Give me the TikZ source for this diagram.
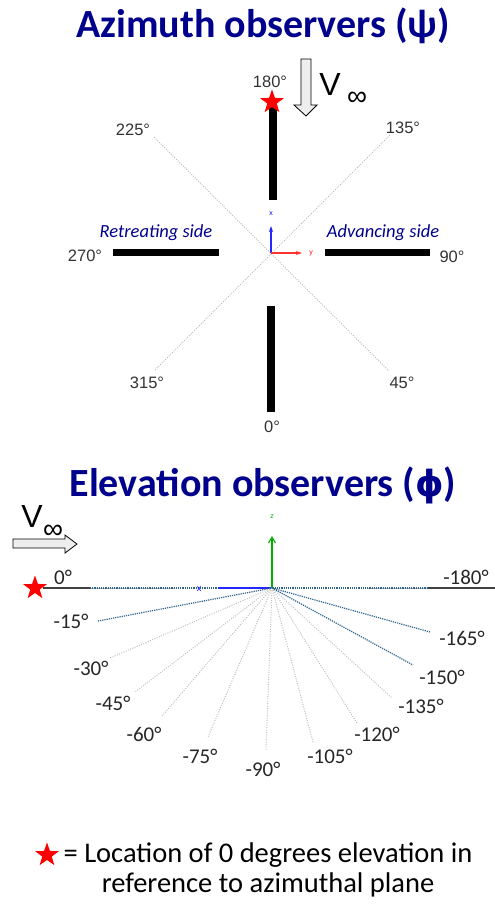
\documentclass[tikz,border=0pt]{standalone}
\usepackage{fontspec}
\setmainfont{Carlito}
\newfontfamily\arialf{Liberation Sans}
\newfontfamily\dejavu{DejaVu Sans}
\usetikzlibrary{shapes.geometric,arrows.meta}
\definecolor{titleblue}{RGB}{0,0,140}
\definecolor{raydark}{RGB}{46,100,140}
\definecolor{arrowfill}{RGB}{238,238,238}
\tikzset{
  ttl/.style={font=\fontsize{40}{46}\selectfont\bfseries, text=titleblue, inner sep=0},
  azlab/.style={font=\arialf\fontsize{16.5}{18}\selectfont, text=black!80, inner sep=0},
  ellab/.style={font=\fontsize{21}{24}\selectfont, text=black!85, inner sep=0},
  sidelab/.style={font=\fontsize{18.5}{22}\selectfont\itshape, text=titleblue, inner sep=0},
  vlab/.style={font=\arialf\fontsize{32}{36}\selectfont, inner sep=0},
  inflab/.style={font=\arialf\fontsize{28}{30}\selectfont, inner sep=0},
  redstar/.style={star, star points=5, star point ratio=2.5, fill=red, draw=none, minimum size=25pt, inner sep=0},
  bar/.style={fill=black, draw=none},
  diag/.style={draw=gray!55, line width=0.9pt, dash pattern=on 1pt off 1.4pt},
  lightray/.style={draw=gray!50, line width=1pt, dash pattern=on 1pt off 1.4pt},
  darkray/.style={draw=raydark, line width=1.2pt, dash pattern=on 1.2pt off 1pt},
  flowarrow/.style={fill=arrowfill, draw=black, line width=0.8pt, line join=miter},
  axlab/.style={font=\arialf\fontsize{7}{8}\selectfont, inner sep=0},
}
\begin{document}
\begin{tikzpicture}[x=1pt,y=-1pt]
\useasboundingbox (0,0) rectangle (495,905);
% ---------------- Azimuth ----------------
\node[ttl] (t1) at (263,26) {Azimuth observers (ψ)};
\coordinate (C) at (271,253);
% diagonals
\coordinate (d225) at (154,137);
\coordinate (d45) at (389,371);
\coordinate (d135) at (390,135);
\coordinate (d315) at (155,370);
\draw[diag] (d225) -- (d45);
\draw[diag] (d135) -- (d315);
% bars
\fill[bar] (269,105) rectangle (277,200);
\fill[bar] (267,306) rectangle (275,412);
\fill[bar] (113,249) rectangle (219,256);
\fill[bar] (325,249) rectangle (430,256);
% labels
\node[azlab] (a180) at (270,82) {180°};
\node[azlab] (a225) at (133,130) {225°};
\node[azlab] (a135) at (403,128) {135°};
\node[azlab] (a270) at (85,256) {270°};
\node[azlab] (a90) at (452,257) {90°};
\node[azlab] (a315) at (147,383) {315°};
\node[azlab] (a45) at (402,383) {45°};
\node[azlab] (a0) at (272,427) {0°};
\node[redstar] (s1) at (272,102) {};
% V inf arrow
\draw[flowarrow] (301,59) -- (311,59) -- (311,105) -- (317,105) -- (306,116) -- (294,105) -- (301,105) -- cycle;
\node[vlab] (v1) at (330,84) {V};
\node[inflab] (i1) at (357,99) {∞};
% axes
\coordinate (Cx) at (271,226);
\coordinate (Cy) at (302,253);
\draw[blue!85, line width=1.1pt, -{Stealth[length=6pt,width=4pt]}] (C) -- (Cx);
\draw[red!80, line width=1.1pt, -{Stealth[length=6pt,width=4pt]}] (C) -- (Cy);
\node[axlab, text=blue] (lx1) at (271,214) {x};
\node[axlab, text=red] (ly1) at (311,253) {y};
\node[sidelab] (ret) at (156,233) {Retreating side};
\node[sidelab] (adv) at (383,233) {Advancing side};
% ---------------- Elevation ----------------
\node[ttl] (t2) at (263,485) {Elevation observers ({\dejavu\fontsize{36}{40}\selectfont\bfseries ϕ})};
\coordinate (E) at (272,588);
\coordinate (hl) at (43,588);
\coordinate (hr) at (495,588);
\draw[black!75, line width=1.2pt] (hl) -- (90,588);
\draw[black!75, line width=1.2pt] (428,588) -- (hr);
\draw[gray!60, line width=0.8pt] (90,588) -- (175,588);
\draw[gray!60, line width=0.8pt] (367,588) -- (428,588);
\draw[darkray] (90,588) -- (428,588);
\draw[blue!85, line width=1.2pt] (218,588) -- (E);
\node[axlab, text=blue, font=\arialf\fontsize{9}{9}\selectfont] (lx2) at (199,589) {x};
% rays
\foreach \n/\x/\y/\s in {15/98/621/darkray, 30/110/658/lightray, 45/135/692/lightray, 60/162/716/lightray, 75/208/737/lightray, 90/266/750/lightray, 105/313/742/lightray, 120/357/723/lightray, 135/392/698/lightray, 150/413/665/darkray, 165/430/632/darkray}{
  \coordinate (r\n) at (\x,\y);
  \draw[\s] (E) -- (r\n);
}
% ray labels
\node[ellab] (e0) at (63,577) {0°};
\node[ellab] (e180) at (466,577) {-180°};
\node[ellab] (e15) at (71,621) {-15°};
\node[ellab] (e30) at (91,668) {-30°};
\node[ellab] (e45) at (113,703) {-45°};
\node[ellab] (e60) at (144,734) {-60°};
\node[ellab] (e75) at (200,756) {-75°};
\node[ellab] (e90) at (263,769) {-90°};
\node[ellab] (e105) at (330,756) {-105°};
\node[ellab] (e120) at (377,734) {-120°};
\node[ellab] (e135) at (421,706) {-135°};
\node[ellab] (e150) at (442,677) {-150°};
\node[ellab] (e165) at (462,638) {-165°};
% z axis
\coordinate (Ez) at (272,536);
\draw[green!70!black, line width=1.1pt, -{Straight Barb[length=6pt,width=7pt]}] (E) -- (Ez);
\node[axlab, text=green!70!black] (lz) at (272,517) {z};
% V inf arrow
\draw[flowarrow] (13,539) -- (65,539) -- (65,535) -- (77,544) -- (65,553) -- (65,548) -- (13,548) -- cycle;
\node[vlab] (v2) at (32,516) {V};
\node[inflab] (i2) at (53,532) {∞};
\node[redstar] (s2) at (35,588) {};
% ---------------- Legend ----------------
\node[redstar] (s3) at (47,855) {};
\node[font=\fontsize{28.5}{30}\selectfont, align=center, inner sep=0] (leg) at (268,870) {= Location of 0 degrees elevation in\\reference to azimuthal plane};
\end{tikzpicture}
\end{document}
